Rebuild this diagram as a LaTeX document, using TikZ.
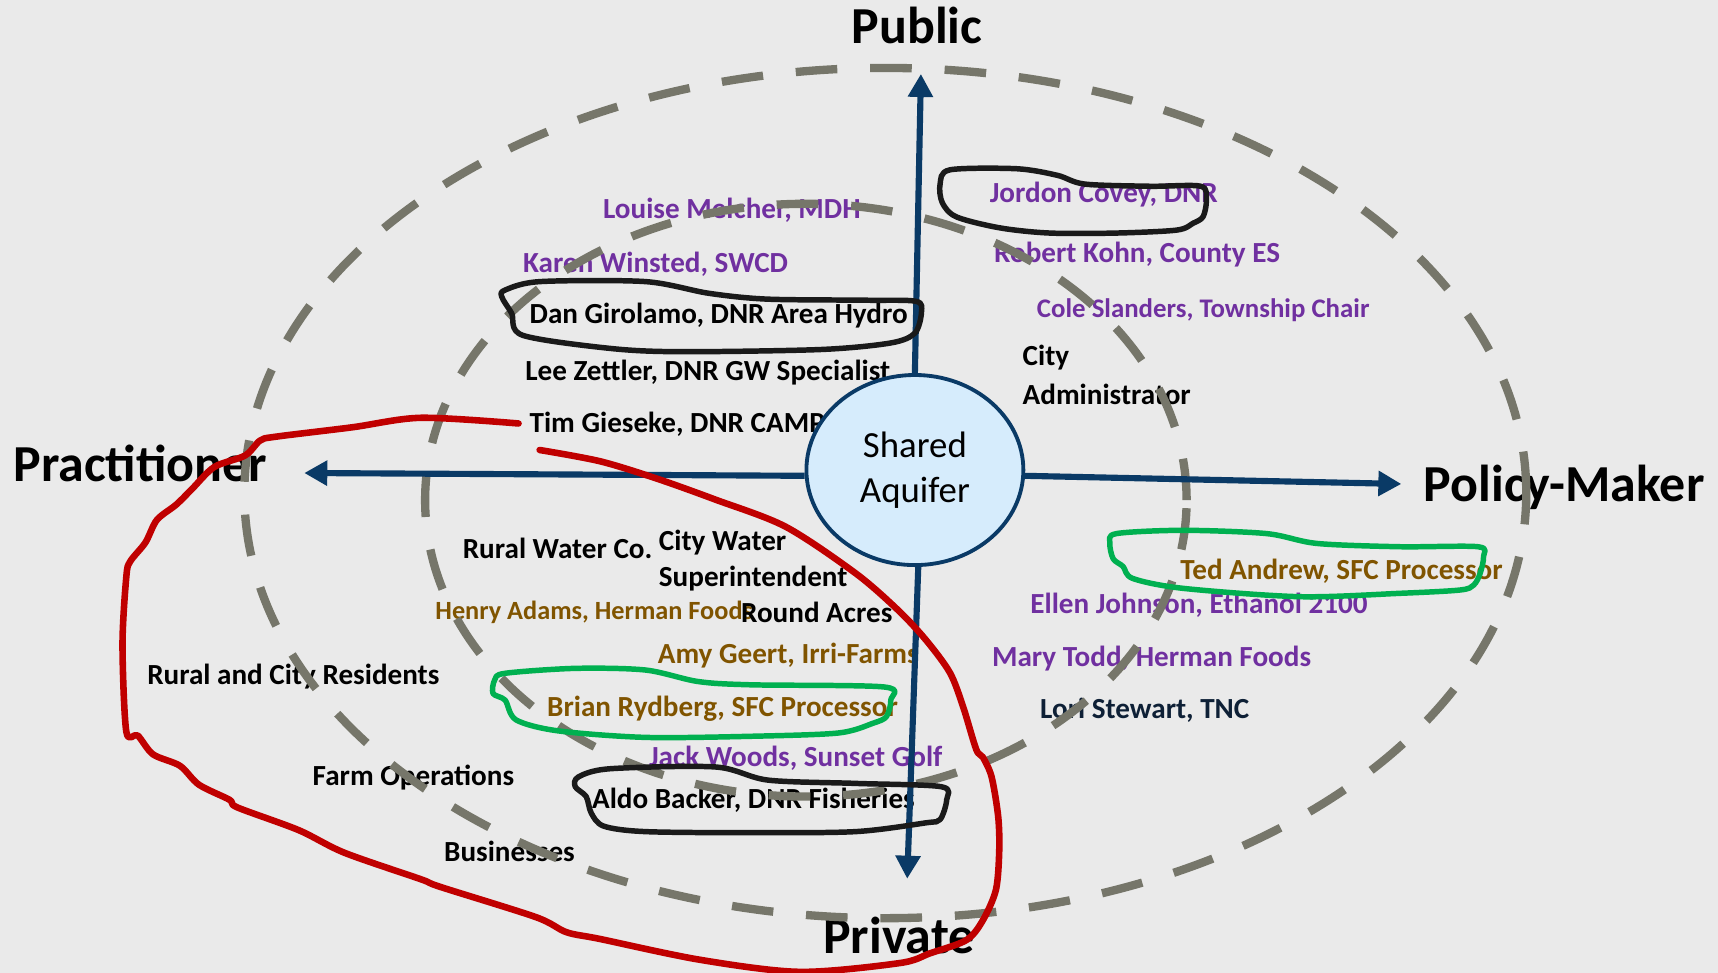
\documentclass[tikz,border=0pt]{standalone}
\usepackage{fontspec}
\setmainfont{Carlito}
\usetikzlibrary{arrows.meta,shapes.geometric}
\definecolor{bgc}{RGB}{234,234,234}
\definecolor{dashc}{RGB}{118,118,106}
\definecolor{axisc}{RGB}{10,58,102}
\definecolor{aqfill}{RGB}{214,236,252}
\definecolor{purp}{RGB}{112,48,160}
\definecolor{brn}{RGB}{128,84,0}
\definecolor{darkn}{RGB}{14,32,54}
\definecolor{redc}{RGB}{192,0,0}
\definecolor{grnc}{RGB}{0,176,80}
\definecolor{blkc}{RGB}{26,26,26}
\begin{document}
\begin{tikzpicture}[x=0.5pt,y=-0.5pt,
  lbl/.style={anchor=base west,inner sep=0pt,font=\fontsize{13.3}{17.35}\selectfont\bfseries},
  smalllbl/.style={anchor=base west,inner sep=0pt,font=\fontsize{12.1}{15}\selectfont\bfseries},
  big/.style={anchor=base west,inner sep=0pt,font=\fontsize{23.7}{28}\selectfont\bfseries},
  purplbl/.style={lbl,text=purp},
  brnlbl/.style={lbl,text=brn},
  blklbl/.style={lbl,text=black},
  ring/.style={draw=dashc,line width=3.8pt,dash pattern=on 19pt off 15pt},
  axisline/.style={draw=axisc,line width=2.8pt,-{Triangle[width=11pt,length=10.5pt]}},
  redloop/.style={draw=redc,line width=3pt,line cap=round,line join=round},
  grnloop/.style={draw=grnc,line width=2.5pt,line join=round},
  blkloop/.style={draw=blkc,line width=2.5pt,line join=round}]
\useasboundingbox (0,0) rectangle (1568,888);
\fill[bgc] (0,0) rectangle (1568,888);

% axis labels
\node[big] (public) at (777,40) {Public};
\node[big] (practitioner) at (12,439) {Practitioner};
\node[big] (policy) at (1299,458) {Policy-Maker};
\node[big] (private) at (751,870) {Private};

% labels
\node[purplbl] (louise) at (550,199) {Louise Melcher, MDH};
\node[purplbl] (karen) at (477,249) {Karen Winsted, SWCD};
\node[blklbl] (dan) at (483,295) {Dan Girolamo, DNR Area Hydro};
\node[blklbl] (lee) at (479,347) {Lee Zettler, DNR GW Specialist};
\node[blklbl] (tim) at (483,395) {Tim Gieseke, DNR CAMP};
\node[purplbl] (jordon) at (903,185) {Jordon Covey, DNR};
\node[purplbl] (robert) at (907,240) {Robert Kohn, County ES};
\node[smalllbl,text=purp,font=\fontsize{12.25}{15}\selectfont\bfseries] (cole) at (946,290) {Cole Slanders, Township Chair};
\node[blklbl] (city1) at (933,334) {City};
\node[blklbl] (city2) at (933,369) {Administrator};
\node[brnlbl] (ted) at (1077,529) {Ted Andrew, SFC Processor};
\node[purplbl] (ellen) at (940,560) {Ellen Johnson, Ethanol 2100};
\node[purplbl] (mary) at (905,608) {Mary Todd, Herman Foods};
\node[lbl,text=darkn] (lori) at (949,656) {Lori Stewart, TNC};
\node[blklbl] (rural) at (422,510) {Rural Water Co.};
\node[blklbl] (cw1) at (601,502) {City Water};
\node[blklbl] (cw2) at (601,535) {Superintendent};
\node[smalllbl,text=brn,font=\fontsize{12}{15}\selectfont\bfseries] (henry) at (397,565) {Henry Adams, Herman Foods};
\node[blklbl] (round) at (676,568) {Round Acres};
\node[brnlbl] (amy) at (600,606) {Amy Geert, Irri-Farms};
\node[brnlbl] (brian) at (499,654) {Brian Rydberg, SFC Processor};
\node[purplbl] (jack) at (592,700) {Jack Woods, Sunset Golf};
\node[blklbl] (aldo) at (540,738) {Aldo Backer, DNR Fisheries};
\node[blklbl] (residents) at (134,625) {Rural and City Residents};
\node[blklbl] (farm) at (285,717) {Farm Operations};
\node[blklbl] (business) at (405,786) {Businesses};

% dashed rings
\draw[ring] (808,450) ellipse [x radius=292.5pt, y radius=194pt];
\draw[ring] (735.5,456.5) ellipse [x radius=173.75pt, y radius=135.25pt];

% centre
\node[ellipse,draw=axisc,line width=1.75pt,fill=aqfill,minimum width=99pt,minimum height=86.75pt,inner sep=0pt,align=center,font=\fontsize{16.8}{20.5}\selectfont] (aq) at (835,429) {Shared\\Aquifer};

\coordinate (ttop) at (840.5,67.5);
\coordinate (tbot) at (828,802);
\coordinate (tleft) at (277.7,431.7);
\coordinate (tright) at (1279,441.7);
\draw[axisline] (aq.north) -- (ttop);
\draw[axisline] (aq.272) -- (tbot);
\draw[axisline] (aq.183) -- (tleft);
\draw[axisline] (aq.357) -- (tright);

% hand-drawn loops
\draw[blkloop] plot[smooth cycle,tension=0.5] coordinates {(867,155) (928,154) (965,160) (990,168) (1050,170) (1096,170) (1101,183) (1098,197.8) (1089,203.7) (1074,210) (1019,212.7) (958,212.7) (912.7,208) (873,198) (860,185) (858,168)};
\draw[blkloop] plot[smooth cycle,tension=0.5] coordinates {(461,264.7) (493,257) (589,257) (647,267.7) (700,273) (790,274) (836,275) (841,285) (835,304) (813,313) (749,319) (621,321) (557,318) (477,306) (467,286) (458,271)};
\draw[blkloop] plot[smooth cycle,tension=0.5] coordinates {(528,709) (557,701.6) (653,700) (701,712) (781,715) (859,718) (864,730) (858,748) (845,751) (781,759) (685,760) (589,759) (551,754) (539.6,742) (535,727) (525,718)};
\draw[grnloop] plot[smooth cycle,tension=0.5] coordinates {(451.5,620.6) (461,614.5) (525,610) (589,611.5) (637,622) (685,625) (807,627) (813,639) (809,654) (797,660) (765,669) (685,672) (589,673) (509,667) (471,657) (461,639) (450,633)};
\draw[grnloop] plot[smooth cycle,tension=0.5] coordinates {(1013,496) (1019,487) (1080,484) (1156,487) (1202,496) (1278,499) (1349,499) (1354,508) (1351,523) (1345,534) (1332.5,538.5) (1278,541.5) (1186.5,544.6) (1080,537) (1034,528) (1025,517) (1016,510)};
\draw[redloop] plot[smooth,tension=0.5] coordinates {(473.3,386.5) (384.2,381.3) (321.4,390) (251.5,398.6) (237.5,402) (223.6,415.8) (195.6,426.2) (174.7,446.9) (160.7,460.7) (143.2,474.5) (132.7,495.2) (118.8,512.5) (115.3,526.3) (111.8,588.4) (115.3,667.8) (125.7,671.3) (139.7,688.5) (164.2,698.9) (181.6,716.2) (209.6,730) (216.6,736.9) (272.5,757.6) (314.4,778.3) (384.2,802.5) (401.7,809.4) (489,837) (517,850.8) (547.7,857) (639,876) (730,887) (821,879) (849,870) (882,858) (897,840) (909,812) (912,776) (911,745) (905,709) (897,691) (891,684) (879,645) (867,614) (845,584) (819.6,556.8) (781,523.3) (717,480.7) (653,456) (600,437) (547.7,421) (492.5,410.7)};
\end{tikzpicture}
\end{document}
